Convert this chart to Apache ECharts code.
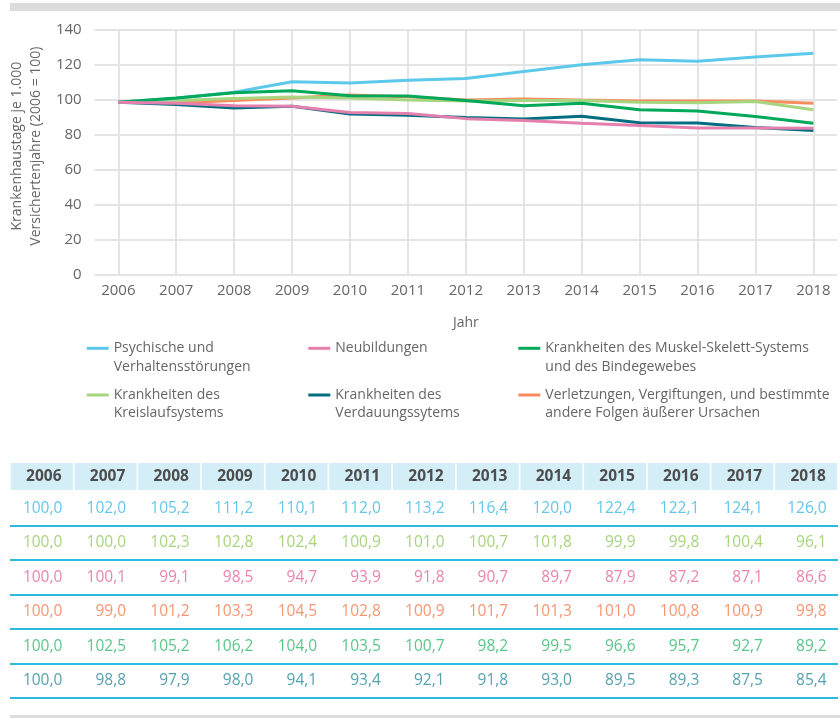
<!DOCTYPE html>
<html>
<head>
<meta charset="utf-8">
<script src="https://cdn.jsdelivr.net/npm/echarts@6/dist/echarts.min.js"></script>
<style>
  html, body { margin: 0; padding: 0; background: #fff; }
  #chart { width: 840px; height: 718px; }
</style>
</head>
<body>
<div id="chart"></div>
<script>
const years = ['2006', '2007', '2008', '2009', '2010', '2011', '2012', '2013', '2014', '2015', '2016', '2017', '2018'];
const yTicks = { min: 0, max: 140, step: 20 };

// values of the lines
const linePsych = [98.4, 100.7, 104.1, 110.1, 109.4, 110.9, 112.0, 115.9, 119.8, 122.7, 121.8, 124.2, 126.3];
const lineNeu = [98.4, 97.8, 96.4, 96.2, 92.6, 92.0, 89.1, 88.0, 86.5, 85.2, 83.8, 83.8, 83.6];
const lineMuskel = [98.4, 100.9, 103.9, 105.0, 102.2, 102.0, 99.4, 96.4, 97.8, 94.1, 93.4, 90.3, 86.5];
const lineKreis = [98.4, 99.5, 100.5, 101.4, 100.9, 99.7, 99.2, 99.5, 99.5, 98.4, 98.2, 98.8, 94.1];
const lineVerd = [98.4, 97.2, 95.2, 96.2, 91.8, 91.0, 89.7, 88.9, 90.4, 86.8, 86.6, 84.1, 82.3];
const lineVerl = [98.4, 98.2, 99.4, 100.9, 102.5, 101.6, 99.7, 100.3, 99.7, 99.2, 99.2, 99.2, 97.8];

// values of the table
const tabPsych = [100.0, 102.0, 105.2, 111.2, 110.1, 112.0, 113.2, 116.4, 120.0, 122.4, 122.1, 124.1, 126.0];
const tabKreis = [100.0, 100.0, 102.3, 102.8, 102.4, 100.9, 101.0, 100.7, 101.8, 99.9, 99.8, 100.4, 96.1];
const tabNeu = [100.0, 100.1, 99.1, 98.5, 94.7, 93.9, 91.8, 90.7, 89.7, 87.9, 87.2, 87.1, 86.6];
const tabVerl = [100.0, 99.0, 101.2, 103.3, 104.5, 102.8, 100.9, 101.7, 101.3, 101.0, 100.8, 100.9, 99.8];
const tabMuskel = [100.0, 102.5, 105.2, 106.2, 104.0, 103.5, 100.7, 98.2, 99.5, 96.6, 95.7, 92.7, 89.2];
const tabVerd = [100.0, 98.8, 97.9, 98.0, 94.1, 93.4, 92.1, 91.8, 93.0, 89.5, 89.3, 87.5, 85.4];

const names = {
  psych: 'Psychische und Verhaltensstörungen',
  neu: 'Neubildungen',
  muskel: 'Krankheiten des Muskel-Skelett-Systems und des Bindegewebes',
  kreis: 'Krankheiten des Kreislaufsystems',
  verd: 'Krankheiten des Verdauungssytems',
  verl: 'Verletzungen, Vergiftungen, und bestimmte andere Folgen äußerer Ursachen'
};
const wrapped = {
  psych: ['Psychische und', 'Verhaltensstörungen'],
  neu: ['Neubildungen'],
  muskel: ['Krankheiten des Muskel-Skelett-Systems', 'und des Bindegewebes'],
  kreis: ['Krankheiten des', 'Kreislaufsystems'],
  verd: ['Krankheiten des', 'Verdauungssytems'],
  verl: ['Verletzungen, Vergiftungen, und bestimmte', 'andere Folgen äußerer Ursachen']
};
const lineColors = {
  psych: '#5cc8ea', neu: '#e57fae', muskel: '#00a859',
  kreis: '#a7d580', verd: '#006e80', verl: '#f78c5e'
};
const textColors = {
  psych: '#3ab9e3', neu: '#e4649f', muskel: '#2fb86a',
  kreis: '#92c95e', verd: '#2b8a9b', verl: '#f47a4f'
};

const FONT = 'Open Sans';
const chart = echarts.init(document.getElementById('chart'));

function fmt(v) {
  return v.toFixed(1).replace('.', ',');
}

function lineSeries(key, data) {
  return {
    name: names[key],
    type: 'line',
    xAxisIndex: 1,
    yAxisIndex: 1,
    data: data,
    symbol: 'none',
    smooth: false,
    lineStyle: { width: 3, color: lineColors[key] },
    itemStyle: { color: lineColors[key] }
  };
}

// table rows, top to bottom
const tableRows = [
  ['psych', tabPsych],
  ['kreis', tabKreis],
  ['neu', tabNeu],
  ['verl', tabVerl],
  ['muskel', tabMuskel],
  ['verd', tabVerd]
];

const tableSeries = tableRows.map(function (row, r) {
  return {
    name: 'tab_' + row[0],
    type: 'scatter',
    xAxisIndex: 2,
    yAxisIndex: 2,
    silent: true,
    symbolSize: 1,
    itemStyle: { color: 'rgba(0,0,0,0)' },
    data: row[1].map(function (v, i) { return [i, r, v]; }),
    label: {
      show: true,
      position: 'inside',
      align: 'right',
      verticalAlign: 'middle',
      offset: [20.5, 0],
      color: textColors[row[0]],
      fontFamily: FONT,
      fontSize: 15.5,
      formatter: function (p) { return fmt(p.value[2]); }
    }
  };
});

// the icon sits on the first text line: a blank line above keeps it centred there
function legendItem(key, left, iconY) {
  const lh = 18.5;
  const lines = wrapped[key];
  const text = lines.length > 1 ? '\n' + lines.join('\n') : lines[0];
  const rows = lines.length > 1 ? 3 : 1;
  return {
    data: [names[key]],
    left: left,
    top: iconY - lh * rows / 2,
    padding: 0,
    icon: 'rect',
    itemWidth: 22,
    itemHeight: 3,
    selectedMode: false,
    formatter: function () { return text; },
    textStyle: {
      color: '#666',
      fontFamily: FONT,
      fontSize: 14,
      lineHeight: lh
    }
  };
}

const option = {
  backgroundColor: '#fff',
  animation: false,
  textStyle: { fontFamily: FONT },
  graphic: [
    { type: 'rect', left: 10, top: 3, shape: { width: 830, height: 8 }, style: { fill: '#dcdcdc' }, silent: true },
    { type: 'rect', left: 10, top: 715, shape: { width: 830, height: 4 }, style: { fill: '#dcdcdc' }, silent: true }
  ],
  legend: [
    legendItem('psych', 86.7, 348.3),
    legendItem('neu', 308.3, 348.3),
    legendItem('muskel', 518.3, 348.3),
    legendItem('kreis', 86.7, 395),
    legendItem('verd', 308.3, 395),
    legendItem('verl', 518.3, 395)
  ],
  grid: [
    // background grid: horizontal lines and y labels
    { left: 90, right: 3, top: 29.3, height: 245.7 },
    // data grid: lines and years
    { left: 118.3, right: 26.7, top: 29.3, height: 245.7 },
    // table
    { left: 10, width: 832, top: 491, height: 207 }
  ],
  xAxis: [
    { gridIndex: 0, type: 'category', data: [], show: false },
    {
      gridIndex: 1,
      type: 'category',
      data: years,
      boundaryGap: false,
      name: 'Jahr',
      nameLocation: 'middle',
      nameGap: 41,
      nameTextStyle: { color: '#666', fontSize: 14, fontFamily: FONT },
      axisLine: { show: false },
      axisTick: { show: false },
      axisLabel: { color: '#666', fontSize: 15, fontFamily: FONT, margin: 8 },
      splitLine: { show: true, lineStyle: { color: '#e4e4e4', width: 2 } }
    },
    {
      gridIndex: 2,
      type: 'category',
      data: years,
      position: 'top',
      axisLine: { show: false },
      axisTick: { show: false },
      splitLine: { show: false },
      axisLabel: {
        interval: 0,
        margin: 1,
        color: '#4d4d4d',
        fontWeight: 'bold',
        fontSize: 15.5,
        fontFamily: FONT,
        backgroundColor: '#d4eef8',
        width: 58,
        height: 27,
        lineHeight: 27,
        padding: [0, 0, 0, 4],
        align: 'center'
      }
    }
  ],
  yAxis: [
    {
      gridIndex: 0,
      type: 'value',
      min: yTicks.min,
      max: yTicks.max,
      interval: yTicks.step,
      name: 'Krankenhaustage je 1.000\nVersichertenjahre (2006 = 100)',
      nameLocation: 'middle',
      nameGap: 41,
      nameRotate: 90,
      nameTextStyle: { color: '#666', fontSize: 14, lineHeight: 18.5, fontFamily: FONT, padding: [0, 0, 0, 12] },
      axisLine: { show: false },
      axisTick: { show: false },
      axisLabel: { color: '#666', fontSize: 15, fontFamily: FONT, margin: 13 },
      splitLine: { show: true, lineStyle: { color: '#e4e4e4', width: 2 } }
    },
    {
      gridIndex: 1,
      type: 'value',
      min: yTicks.min,
      max: yTicks.max,
      interval: yTicks.step,
      show: false
    },
    {
      gridIndex: 2,
      type: 'category',
      data: tableRows.map(function (r) { return r[0]; }),
      inverse: true,
      axisLine: { show: false },
      axisTick: { show: false },
      axisLabel: { show: false },
      splitLine: { show: true, showMinLine: false, interval: 0, lineStyle: { color: '#2bbbe0', width: 2 } }
    }
  ],
  series: [
    lineSeries('verd', lineVerd),
    lineSeries('verl', lineVerl),
    lineSeries('kreis', lineKreis),
    lineSeries('psych', linePsych),
    lineSeries('muskel', lineMuskel),
    lineSeries('neu', lineNeu)
  ].concat(tableSeries)
};

chart.setOption(option);
</script>
</body>
</html>
